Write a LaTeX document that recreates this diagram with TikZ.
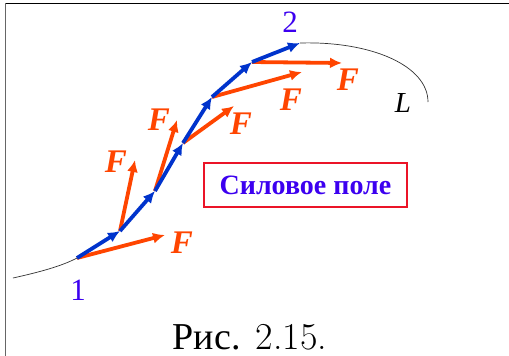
\documentclass[tikz,border=0pt]{standalone}
\usepackage{fontspec}
\newfontfamily\timesf{Liberation Serif}
\usetikzlibrary{arrows.meta}
\definecolor{arrblue}{RGB}{0,51,204}
\definecolor{arrred}{RGB}{255,69,0}
\definecolor{numblue}{RGB}{60,0,240}
\definecolor{boxred}{RGB}{235,20,40}
\tikzset{
  bluearr/.style={draw=arrblue, line width=3.8pt, -{Latex[length=12pt,width=11pt]}},
  redarr/.style={draw=arrred, line width=3.8pt, -{Latex[length=12pt,width=11pt]}},
  flab/.style={text=arrred, font=\timesf\bfseries\itshape\fontsize{33}{33}\selectfont, inner sep=0pt},
  numlab/.style={text=numblue, font=\timesf\fontsize{31}{31}\selectfont, inner sep=0pt},
  curve/.style={draw=black!80, line width=0.7pt},
}
\begin{document}
\begin{tikzpicture}[x=1pt,y=-1pt]
\useasboundingbox (0,0) rectangle (509,356);
\fill[white] (0,0) rectangle (509,356);
\draw[black, line width=1pt] (5,3) -- (509,3);
\draw[black!60, line width=1pt] (5,3) -- (5,356);
% path points
\coordinate (s) at (13,278);
\coordinate (p1) at (77,258);
\coordinate (p2) at (120,231);
\coordinate (p3) at (155,191);
\coordinate (p4) at (183,143);
\coordinate (p5) at (212,97);
\coordinate (p6) at (252,62);
\coordinate (p7) at (300,43);
\coordinate (e) at (428,102);
% force tips
\coordinate (f1) at (165,235);
\coordinate (f2) at (135,160);
\coordinate (f3) at (177,120);
\coordinate (f4) at (234,106);
\coordinate (f5) at (302,72);
\coordinate (f6) at (342,63);
% curve
\draw[curve] (s) .. controls (40,272) and (62,266) .. (p1);
\draw[curve] (p7) .. controls (372,41) and (428,66) .. (e);
% red force arrows
\draw[redarr] (p1) -- (f1);
\draw[redarr] (p2) -- (f2);
\draw[redarr] (p3) -- (f3);
\draw[redarr] (p4) -- (f4);
\draw[redarr] (p5) -- (f5);
\draw[redarr] (p6) -- (f6);
% blue displacement arrows
\draw[bluearr] (p1) -- (p2);
\draw[bluearr] (p2) -- (p3);
\draw[bluearr] (p3) -- (p4);
\draw[bluearr] (p4) -- (p5);
\draw[bluearr] (p5) -- (p6);
\draw[bluearr] (p6) -- (p7);
% labels
\node[flab] (F1) at (182,243) {F};
\node[flab] (F2) at (116,162) {F};
\node[flab] (F3) at (159,120) {F};
\node[flab] (F4) at (241,124) {F};
\node[flab] (F5) at (291,100) {F};
\node[flab] (F6) at (348,80) {F};
\node[numlab] (n1) at (78,290) {1};
\node[numlab] (n2) at (290,22) {2};
\node[inner sep=0pt, font=\timesf\itshape\fontsize{29}{29}\selectfont] (L) at (403,103) {L};
\node[draw=boxred, line width=2pt, minimum width=203pt, minimum height=44pt, inner sep=0pt,
  text=numblue, font=\timesf\bfseries\fontsize{28}{28}\selectfont] (box) at (305.5,185) {Силовое поле};
\node[inner sep=0pt, font=\fontsize{38}{38}\selectfont, anchor=base] (cap) at (250,349)
  {{\timesf Рис.} 2.15.};
\end{tikzpicture}
\end{document}
